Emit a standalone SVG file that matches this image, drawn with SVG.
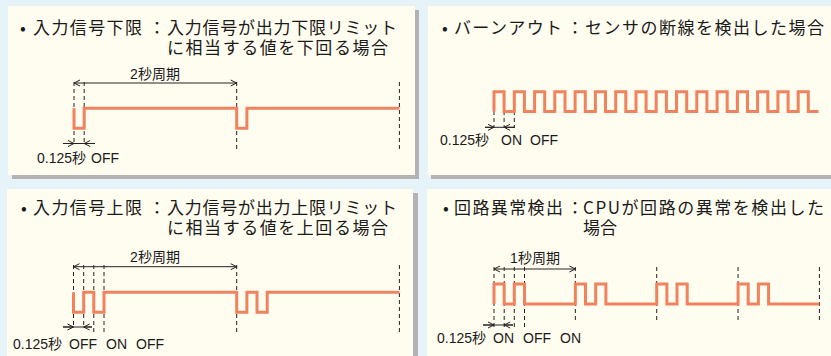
<svg xmlns="http://www.w3.org/2000/svg" width="831" height="356" viewBox="0 0 831 356">
<style>
.bg{fill:#E6F4FA}
.panel{fill:#FFFDF0}
.shadow{fill:#B3B3B3}
.t{font-family:"Noto Sans CJK JP","Noto Sans",sans-serif;font-size:17px;fill:#1A1A1A}
.l{font-family:"Liberation Sans","Noto Sans CJK JP",sans-serif;font-size:14px;fill:#1A1A1A}
.wave{fill:none;stroke:#F0825E;stroke-width:3;stroke-linejoin:miter}
.dash{stroke:#222;stroke-width:1;stroke-dasharray:4 3;fill:none}
.dim{stroke:#222;stroke-width:1;fill:none}
</style>
<defs>
<marker id="chev" viewBox="0 0 8 8" refX="7.5" refY="4" markerWidth="8" markerHeight="8" markerUnits="userSpaceOnUse" orient="auto-start-reverse">
<path d="M1.5,1 L7.5,4 L1.5,7" fill="none" stroke="#222" stroke-width="1"/>
</marker>
</defs>
<rect class="bg" x="0" y="0" width="831" height="356"/>

<g id="panel1">
<rect class="shadow" x="12" y="10" width="407" height="169"/>
<rect class="panel" x="8" y="6" width="407" height="169"/>
<text class="t"><tspan x="23" y="34" text-anchor="middle">•</tspan><tspan x="33" y="34" textLength="109" lengthAdjust="spacing">入力信号下限</tspan><tspan x="157" y="34" text-anchor="middle">：</tspan><tspan x="167" y="34" textLength="230" lengthAdjust="spacing">入力信号が出力下限リミット</tspan><tspan x="167" y="54" textLength="221" lengthAdjust="spacing">に相当する値を下回る場合</tspan></text>
<text class="l" x="155" y="79" text-anchor="middle">2秒周期</text>
<text class="l" x="37" y="163">0.125秒<tspan x="91">OFF</tspan></text>
</g>

<g id="panel2">
<rect class="shadow" x="431" y="10" width="410" height="169"/>
<rect class="panel" x="428" y="6" width="410" height="169"/>
<text class="t"><tspan x="445" y="34" text-anchor="middle">•</tspan><tspan x="454" y="34" textLength="108" lengthAdjust="spacing">バーンアウト</tspan><tspan x="575" y="34" text-anchor="middle">：</tspan><tspan x="585" y="34" textLength="239" lengthAdjust="spacing">センサの断線を検出した場合</tspan></text>
<text class="l" x="440" y="145">0.125秒<tspan x="501">ON</tspan><tspan x="530">OFF</tspan></text>
</g>

<g id="panel3">
<rect class="shadow" x="11" y="193" width="407" height="180"/>
<rect class="panel" x="7" y="189" width="406" height="180"/>
<text class="t"><tspan x="24" y="214" text-anchor="middle">•</tspan><tspan x="33" y="214" textLength="109" lengthAdjust="spacing">入力信号上限</tspan><tspan x="157" y="214" text-anchor="middle">：</tspan><tspan x="167" y="214" textLength="230" lengthAdjust="spacing">入力信号が出力上限リミット</tspan><tspan x="167" y="234" textLength="221" lengthAdjust="spacing">に相当する値を上回る場合</tspan></text>
<text class="l" x="155" y="262" text-anchor="middle">2秒周期</text>
<text class="l" x="13" y="349">0.125秒<tspan x="69">OFF</tspan><tspan x="106">ON</tspan><tspan x="136">OFF</tspan></text>
</g>

<g id="panel4">
<rect class="shadow" x="430" y="193" width="410" height="180"/>
<rect class="panel" x="427" y="189" width="410" height="180"/>
<text class="t"><tspan x="446" y="214" text-anchor="middle">•</tspan><tspan x="454" y="214" textLength="109" lengthAdjust="spacing">回路異常検出</tspan><tspan x="575" y="214" text-anchor="middle">：</tspan><tspan x="583" y="214" textLength="241" lengthAdjust="spacing">CPUが回路の異常を検出した</tspan><tspan x="583" y="234" textLength="34" lengthAdjust="spacing">場合</tspan></text>
<text class="l" x="535" y="263" text-anchor="middle">1秒周期</text>
<text class="l" x="437" y="343">0.125秒<tspan x="493">ON</tspan><tspan x="523">OFF</tspan><tspan x="560">ON</tspan></text>
</g>

<g id="connectors">
<!-- panel 1 -->
<path class="dash" d="M74,82 V145 M84.2,82 V145 M236.7,82 V150 M399.4,82 V150"/>
<line class="dim" x1="74" y1="83" x2="236.7" y2="83" marker-start="url(#chev)" marker-end="url(#chev)"/>
<path class="dim" d="M63,143.5 H95"/>
<line class="dim" x1="63" y1="143.5" x2="74" y2="143.5" marker-end="url(#chev)"/>
<line class="dim" x1="95" y1="143.5" x2="84.2" y2="143.5" marker-end="url(#chev)"/>
<path class="wave" d="M74,108.3 V128.3 H84.2 V108.3 H236.7 V128.3 H246.9 V108.3 H399.4"/>

<!-- panel 2 -->
<path class="dash" d="M494,111 V128 M504.1,111 V128 M514.3,111 V128"/>
<path class="dim" d="M485,127.3 H515"/>
<line class="dim" x1="485" y1="127.3" x2="494" y2="127.3" marker-end="url(#chev)"/>
<line class="dim" x1="515" y1="127.3" x2="504.1" y2="127.3" marker-end="url(#chev)"/>
<path class="wave" d="M494,111.5 V91.7 H504.1 V111.5 H514.3 V91.7 H524.4 V111.5 H534.6 V91.7 H544.7 V111.5 H554.8 V91.7 H565 V111.5 H575.1 V91.7 H585.3 V111.5 H595.4 V91.7 H605.5 V111.5 H615.7 V91.7 H625.8 V111.5 H636 V91.7 H646.1 V111.5 H656.2 V91.7 H666.4 V111.5 H676.5 V91.7 H686.7 V111.5 H696.8 V91.7 H706.9 V111.5 H717.1 V91.7 H727.2 V111.5 H737.4 V91.7 H747.5 V111.5 H757.6 V91.7 H767.8 V111.5 H777.9 V91.7 H788.1 V111.5 H798.2 V91.7 H808.3 V111.5 H818.5"/>

<!-- panel 3 -->
<path class="dash" d="M73.5,265 V328 M83.7,265 V328 M93.8,265 V333 M104,265 V333 M236.7,265 V333 M399.4,265 V333"/>
<line class="dim" x1="73.5" y1="266.7" x2="236.7" y2="266.7" marker-start="url(#chev)" marker-end="url(#chev)"/>
<path class="dim" d="M63,327 H92"/>
<line class="dim" x1="63" y1="327" x2="73.5" y2="327" marker-end="url(#chev)"/>
<line class="dim" x1="92" y1="327" x2="83.7" y2="327" marker-end="url(#chev)"/>
<path class="wave" d="M73.5,292.3 V312.3 H83.7 V292.3 H93.8 V312.3 H104 V292.3 H236.7 V312.3 H246.9 V292.3 H257 V312.3 H267.2 V292.3 H399.4"/>

<!-- panel 4 -->
<path class="dash" d="M494,267 V327 M504.2,267 V327 M514.3,267 V330 M524.5,267 V330 M575.35,267 V320 M656.7,267 V320 M738.05,267 V320 M819.4,267 V320"/>
<line class="dim" x1="494" y1="269" x2="575.35" y2="269" marker-start="url(#chev)" marker-end="url(#chev)"/>
<path class="dim" d="M483,325 H513"/>
<line class="dim" x1="483" y1="325" x2="494" y2="325" marker-end="url(#chev)"/>
<line class="dim" x1="513" y1="325" x2="504.2" y2="325" marker-end="url(#chev)"/>
<path class="wave" d="M494,304 V284 H504.2 V304 H514.3 V284 H524.5 V304 H575.35 V284 H585.5 V304 H595.7 V284 H605.9 V304 H656.7 V284 H666.9 V304 H677 V284 H687.2 V304 H738.05 V284 H748.2 V304 H758.4 V284 H768.6 V304 H819.4"/>
</g>
</svg>
